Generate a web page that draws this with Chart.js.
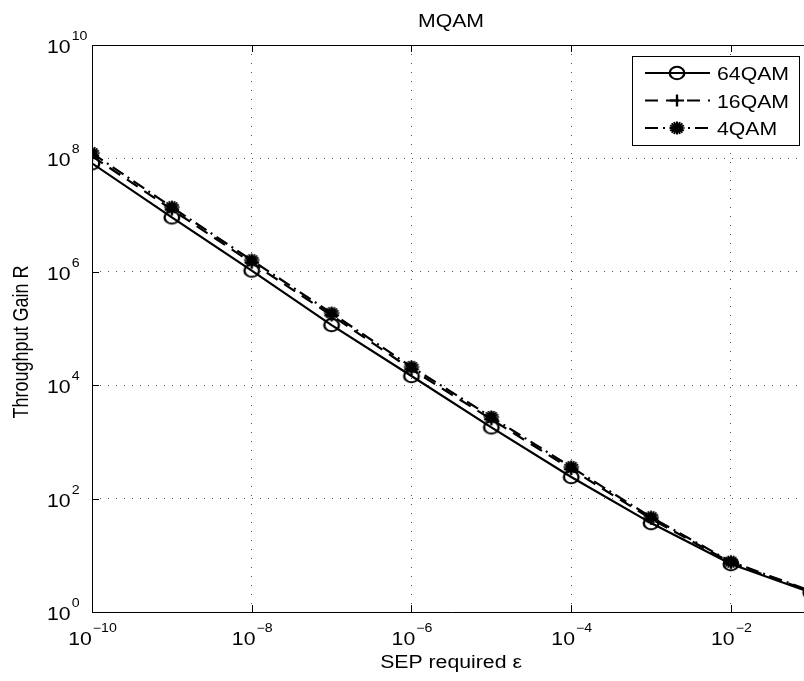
<!DOCTYPE html>
<html>
<head>
<meta charset="utf-8">
<script src="https://cdn.jsdelivr.net/npm/chart.js@4/dist/chart.umd.min.js"></script>
<style>
  html, body { margin: 0; padding: 0; background: #fff; overflow: hidden; }
  #wrap { width: 820px; height: 681px; }
</style>
</head>
<body>
<div id="wrap"><canvas id="chart" width="820" height="681"></canvas></div>
<script>
// data
const sep = [1e-10, 1e-9, 1e-8, 1e-7, 1e-6, 1e-5, 1e-4, 1e-3, 1e-2, 1e-1];
const gain64 = [8.2e7, 9.1e6, 1.05e6, 1.15e5, 1.45e4, 1.8e3, 240, 37, 7.0, 2.2];
const gain16 = [1.1e8, 1.25e7, 1.45e6, 1.7e5, 1.9e4, 2.5e3, 330, 44, 7.4, 2.3];
const gain4 = [1.24e8, 1.38e7, 1.6e6, 1.87e5, 2.1e4, 2.75e3, 360, 47, 7.7, 2.35];
const seriesNames = ['64QAM', '16QAM', '4QAM'];
const xTicks = [1e-10, 1e-8, 1e-6, 1e-4, 1e-2];
const xTickExp = ['\u221210', '\u22128', '\u22126', '\u22124', '\u22122'];
const yTicks = [1e0, 1e2, 1e4, 1e6, 1e8, 1e10];
const yTickExp = ['0', '2', '4', '6', '8', '10'];

const SX = 1.18; // the figure is stretched sideways
const FONT = '"Liberation Sans", Arial, sans-serif';

function marker(kind) {
    const c = document.createElement('canvas');
    c.width = 22; c.height = 18;
    const g = c.getContext('2d');
    g.translate(11, 9);
    g.scale(SX, 1);
    g.strokeStyle = '#000';
    g.lineWidth = 2;
    g.beginPath();
    if (kind === 'circle') {
        g.arc(0, 0, 6.2, 0, Math.PI * 2);
    } else if (kind === 'plus') {
        g.moveTo(-6, 0); g.lineTo(6, 0);
        g.moveTo(0, -6); g.lineTo(0, 6);
    } else {
        g.lineWidth = 1.7;
        for (let i = 0; i < 8; i++) {
            const a = i * Math.PI / 8;
            g.moveTo(-6.5 * Math.cos(a), -6.5 * Math.sin(a));
            g.lineTo(6.5 * Math.cos(a), 6.5 * Math.sin(a));
        }
    }
    g.stroke();
    return c;
}

const markers = [marker('circle'), marker('plus'), marker('star')];
const dashes = [[], [13, 8], [13, 5, 2, 5]];

function txt(ctx, s, x, y, size, align) {
    ctx.save();
    ctx.translate(x, y);
    ctx.scale(SX, 1);
    ctx.font = size + 'px ' + FONT;
    ctx.textAlign = align || 'left';
    ctx.textBaseline = 'alphabetic';
    ctx.fillStyle = '#000';
    ctx.fillText(s, 0, 0);
    ctx.restore();
}

function txtWidth(ctx, s, size) {
    ctx.save();
    ctx.font = size + 'px ' + FONT;
    const w = ctx.measureText(s).width * SX;
    ctx.restore();
    return w;
}

const decor = {
    id: 'decor',
    afterDraw(chart) {
        const ctx = chart.ctx;
        const a = chart.chartArea;
        const xs = chart.scales.x, ys = chart.scales.y;

        // axes frame
        ctx.save();
        ctx.strokeStyle = '#000';
        ctx.lineWidth = 1;
        ctx.beginPath();
        ctx.moveTo(a.right + 0.5, a.top + 0.5);
        ctx.lineTo(a.left + 0.5, a.top + 0.5);
        ctx.lineTo(a.left + 0.5, a.bottom + 0.5);
        ctx.lineTo(a.right + 0.5, a.bottom + 0.5);
        ctx.stroke();

        // inward tick marks
        ctx.beginPath();
        xTicks.forEach(v => {
            const px = Math.round(xs.getPixelForValue(v)) + 0.5;
            ctx.moveTo(px, a.bottom); ctx.lineTo(px, a.bottom - 7);
            ctx.moveTo(px, a.top); ctx.lineTo(px, a.top + 7);
        });
        yTicks.forEach(v => {
            const py = Math.round(ys.getPixelForValue(v)) + 0.5;
            ctx.moveTo(a.left, py); ctx.lineTo(a.left + 7, py);
        });
        ctx.stroke();
        ctx.restore();

        // x tick labels
        xTicks.forEach((v, i) => {
            const px = xs.getPixelForValue(v);
            const wb = txtWidth(ctx, '10', 18);
            const we = txtWidth(ctx, xTickExp[i], 12);
            const x0 = px - (wb + we) / 2;
            txt(ctx, '10', x0, a.bottom + 33, 18);
            txt(ctx, xTickExp[i], x0 + wb + 1, a.bottom + 20, 12);
        });

        // y tick labels
        yTicks.forEach((v, i) => {
            const py = ys.getPixelForValue(v);
            const wb = txtWidth(ctx, '10', 18);
            txt(ctx, '10', 47, py + 8, 18);
            txt(ctx, yTickExp[i], 47 + wb + 1, py - 5, 12);
        });

        // title and axis titles
        const cx = 451;
        txt(ctx, 'MQAM', cx, 27, 18, 'center');
        txt(ctx, 'SEP required \u03b5', cx, 668, 18, 'center');
        ctx.save();
        ctx.translate(28, 342);
        ctx.rotate(-Math.PI / 2);
        ctx.scale(1, SX);
        ctx.font = '18px ' + FONT;
        ctx.textAlign = 'center';
        ctx.fillStyle = '#000';
        ctx.fillText('Throughput Gain R', 0, 0);
        ctx.restore();

        // legend
        const lx = 632, ly = 56, lw = 167, lh = 89;
        ctx.save();
        ctx.fillStyle = '#fff';
        ctx.fillRect(lx, ly, lw, lh);
        ctx.strokeStyle = '#000';
        ctx.lineWidth = 1;
        ctx.strokeRect(lx + 0.5, ly + 0.5, lw, lh);
        seriesNames.forEach((name, i) => {
            const ry = 73 + i * 27.5;
            ctx.save();
            ctx.strokeStyle = '#000';
            ctx.lineWidth = 2.2;
            ctx.setLineDash(dashes[i]);
            ctx.beginPath();
            ctx.moveTo(645, ry); ctx.lineTo(710, ry);
            ctx.stroke();
            ctx.restore();
            const m = markers[i];
            ctx.drawImage(m, 677 - m.width / 2, ry - m.height / 2);
            txt(ctx, name, 717, ry + 7, 18);
        });
        ctx.restore();
    }
};

function pts(ys) {
    return sep.map((x, i) => ({ x: x, y: ys[i] }));
}

const datasets = [gain64, gain16, gain4].map((vals, i) => ({
    label: seriesNames[i],
    data: pts(vals),
    borderColor: '#000',
    backgroundColor: '#000',
    borderWidth: 2.2,
    borderDash: dashes[i],
    pointStyle: markers[i],
    pointRadius: 7,
    tension: 0,
    fill: false
}));

new Chart(document.getElementById('chart'), {
    type: 'line',
    data: { datasets: datasets },
    options: {
        responsive: false,
        animation: false,
        devicePixelRatio: 1,
        layout: { padding: { top: 45, right: 1, left: 0, bottom: 0 } },
        plugins: {
            legend: { display: false },
            title: { display: false },
            tooltip: { enabled: false }
        },
        scales: {
            x: {
                type: 'logarithmic',
                min: 1e-10,
                max: 1e-1,
                afterBuildTicks: s => { s.ticks = xTicks.map(v => ({ value: v })); },
                afterFit: s => { s.height = 69; },
                ticks: { display: false },
                grid: { color: '#555', lineWidth: 1, drawTicks: false },
                border: { display: false, dash: [1, 8] }
            },
            y: {
                type: 'logarithmic',
                min: 1e0,
                max: 1e10,
                afterBuildTicks: s => { s.ticks = yTicks.map(v => ({ value: v })); },
                afterFit: s => { s.width = 92; },
                ticks: { display: false },
                grid: { color: '#555', lineWidth: 1, drawTicks: false },
                border: { display: false, dash: [1, 7] }
            }
        }
    },
    plugins: [decor]
});
</script>
</body>
</html>
